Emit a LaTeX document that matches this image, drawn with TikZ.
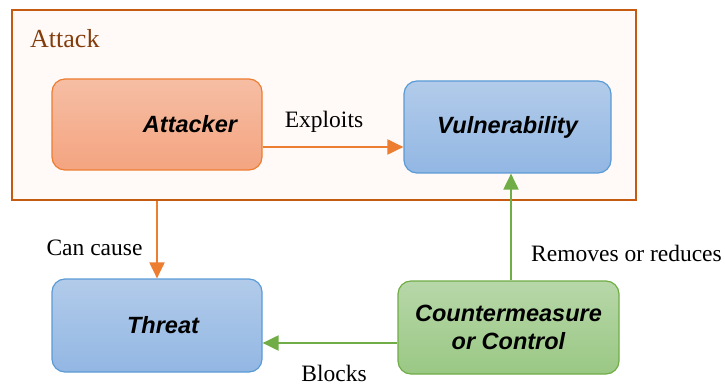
\documentclass[tikz,border=0pt]{standalone}
\usepackage{fontspec}
\setmainfont{Liberation Serif}
\newfontfamily\boxfont{Liberation Sans}
\usetikzlibrary{arrows.meta}

\definecolor{frameorange}{HTML}{C55A11}
\definecolor{framefill}{HTML}{FFFAF7}
\definecolor{attacktext}{HTML}{843C0C}
\definecolor{orangeline}{HTML}{ED7D31}
\definecolor{orangetop}{HTML}{F6BEA4}
\definecolor{orangebot}{HTML}{F4A480}
\definecolor{blueline}{HTML}{5B9BD5}
\definecolor{bluetop}{HTML}{B2CBEA}
\definecolor{bluebot}{HTML}{92B7E3}
\definecolor{greenline}{HTML}{70AD47}
\definecolor{greentop}{HTML}{B7D7A9}
\definecolor{greenbot}{HTML}{9AC884}

\tikzset{
  frame/.style={draw=frameorange, line width=2.2pt, fill=framefill, inner sep=0pt},
  entity/.style={rounded corners=13pt, line width=1.2pt, inner sep=0pt,
    font=\boxfont\bfseries\itshape\fontsize{23.5}{28}\selectfont, align=center},
  orangebox/.style={entity, draw=orangeline, top color=orangetop, bottom color=orangebot},
  bluebox/.style={entity, draw=blueline, top color=bluetop, bottom color=bluebot},
  greenbox/.style={entity, draw=greenline, top color=greentop, bottom color=greenbot},
  boxtext/.style={font=\boxfont\bfseries\itshape\fontsize{23.5}{28}\selectfont},
  edgelabel/.style={font=\fontsize{23.5}{28}\selectfont, inner sep=0pt},
  orangearrow/.style={draw=orangeline, line width=2pt, -{Triangle[length=16pt,width=15pt]}},
  greenarrow/.style={draw=greenline, line width=2pt, -{Triangle[length=16pt,width=15pt]}},
}

\begin{document}
\begin{tikzpicture}[x=1pt, y=-1pt]
\useasboundingbox (0,0) rectangle (725,387);

% attack container
\node[frame, minimum width=624pt, minimum height=190pt] (attack) at (324,105) {};
\node[anchor=west, text=attacktext, font=\fontsize{26}{30}\selectfont, inner sep=0pt] (attacklabel) at (30,39) {Attack};

% entities
\node[orangebox, minimum width=210pt, minimum height=91pt,
      label={[boxtext, xshift=33pt]center:Attacker}] (attacker) at (157,124.5) {};
\node[bluebox, minimum width=207pt, minimum height=92pt] (vuln) at (507.5,127) {Vulnerability};
\node[bluebox, minimum width=210pt, minimum height=93pt,
      label={[boxtext, xshift=6pt]center:Threat}] (threat) at (157,325.5) {};
\node[greenbox, minimum width=221pt, minimum height=93pt] (counter) at (508.5,327.5)
      {Countermeasure\\or Control};

% relations
\draw[orangearrow] ([yshift=-22.5pt]attacker.east) -- ([yshift=-22.5pt]attacker.east -| vuln.west);
\draw[orangearrow] (threat.north |- attack.south) -- (threat.north);
\draw[greenarrow] ([xshift=2.5pt]counter.north) -- ([xshift=2.5pt]counter.north |- vuln.south);
\draw[greenarrow] ([yshift=-15.5pt]counter.west) -- ([yshift=-15.5pt]counter.west -| threat.east);

% relation labels
\node[edgelabel] (lexploits) at (324,122) {Exploits};
\node[edgelabel] (lcause) at (94.5,248) {Can cause};
\node[edgelabel] (lremoves) at (626.5,253) {Removes or reduces};
\node[edgelabel] (lblocks) at (334,373) {Blocks};
\end{tikzpicture}
\end{document}
